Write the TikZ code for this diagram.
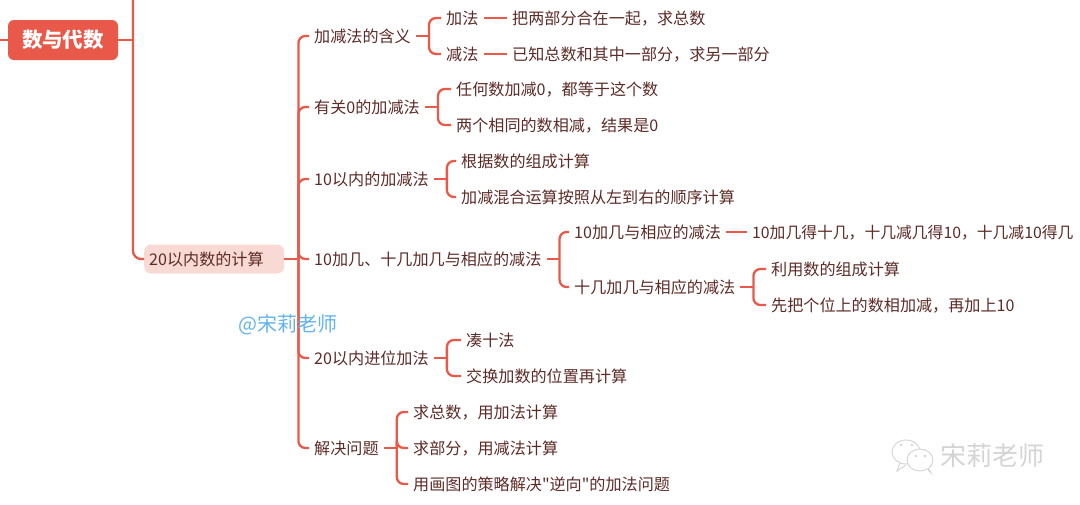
\documentclass[tikz,border=0pt]{standalone}
\usepackage{fontspec}
\newfontfamily\cjk{Noto Sans CJK SC}
\usepackage{xcolor}
\definecolor{coral}{HTML}{E8594A}
\definecolor{ink}{HTML}{5C2B27}
\definecolor{blush}{HTML}{F9D9D4}
\definecolor{sky}{HTML}{62B4EE}
\definecolor{stampgray}{HTML}{D4D4D4}
\tikzset{
  topic/.style={anchor=west,text=ink,inner xsep=5pt,inner ysep=0pt,text height=14.5pt,
                text depth=1pt,font=\cjk\fontsize{16.1}{18}\selectfont},
  rootbox/.style={fill=coral,text=white,rounded corners=6pt,minimum width=110pt,
                  minimum height=40pt,inner sep=0pt,
                  font=\cjk\fontsize{20.5}{24}\selectfont\bfseries},
  subbox/.style={topic,fill=blush,rounded corners=7pt,minimum height=29pt,minimum width=140pt,
                 text width=130pt},
  link/.style={draw=coral,line width=2.3pt},
  bubble/.style={draw=stampgray,fill=white,line width=0.9pt},
}
\newcommand{\branch}[3]{%
  \draw[link](#1.east)--++(#2,0)coordinate(j);
  \foreach \c in {#3}{\draw[link,rounded corners=7pt](j)|-(\c.west);}
}
\begin{document}
\begin{tikzpicture}[x=1pt,y=-1pt]
  \useasboundingbox(0,0)rectangle(1080,504);
  % root and first trunk
  \node[rootbox](root)at(63,40){数与代数};
  \coordinate(rootin)at(0,40);
  \coordinate(trunktop)at(133,0);
  \node[subbox](calc)at(144,259){20以内数的计算};
  \draw[link](rootin)--(root.west);
  \draw[link](root.east)--(root.east-|trunktop);
  \draw[link,rounded corners=8pt](trunktop)|-(calc.west);
  % second level
  \node[topic](mean)at(309,36){加减法的含义};
  \node[topic](zero)at(309,107){有关0的加减法};
  \node[topic](ten)at(309,179){10以内的加减法};
  \node[topic](teen)at(309,259){10加几、十几加几与相应的减法};
  \node[topic](carry)at(309,358){20以内进位加法};
  \node[topic](solve)at(309,448){解决问题};
  \branch{calc}{14}{mean,zero,ten,teen,carry,solve}
  % meaning
  \node[topic](add)at(441,18){加法};
  \node[topic](sub)at(441,54){减法};
  \node[topic](addtxt)at(507,18){把两部分合在一起，求总数};
  \node[topic](subtxt)at(507,54){已知总数和其中一部分，求另一部分};
  \branch{mean}{13}{add,sub}
  \draw[link](add)--(addtxt);
  \draw[link](sub)--(subtxt);
  % zero
  \node[topic](zeroa)at(451,89){任何数加减0，都等于这个数};
  \node[topic](zerob)at(451,125){两个相同的数相减，结果是0};
  \branch{zero}{13}{zeroa,zerob}
  % within ten
  \node[topic](tena)at(456,161){根据数的组成计算};
  \node[topic](tenb)at(456,197){加减混合运算按照从左到右的顺序计算};
  \branch{ten}{13}{tena,tenb}
  % ten plus
  \node[topic](teena)at(569,232){10加几与相应的减法};
  \node[topic](teenb)at(569,287){十几加几与相应的减法};
  \node[topic,font=\cjk\fontsize{15.8}{18}\selectfont](teenatxt)at(747,232){10加几得十几，十几减几得10，十几减10得几};
  \node[topic](teenba)at(766,269){利用数的组成计算};
  \node[topic](teenbb)at(766,305){先把个位上的数相加减，再加上10};
  \branch{teen}{13}{teena,teenb}
  \draw[link](teena)--(teenatxt);
  \branch{teenb}{13}{teenba,teenbb}
  % carry
  \node[topic](carrya)at(461,340){凑十法};
  \node[topic](carryb)at(461,376){交换加数的位置再计算};
  \branch{carry}{13}{carrya,carryb}
  % solving
  \node[topic](solvea)at(408,412){求总数，用加法计算};
  \node[topic](solveb)at(408,448){求部分，用减法计算};
  \node[topic](solvec)at(408,484){用画图的策略解决"逆向"的加法问题};
  \branch{solve}{13}{solvea,solveb,solvec}
  % watermarks
  \node[text=sky,font=\cjk\fontsize{20}{22}\selectfont,anchor=west,inner sep=0pt](wmark)at(238,325){@宋莉老师};
  \node[text=stampgray,font=\cjk\fontsize{26}{30}\selectfont,anchor=west,inner sep=0pt](logo)at(940,456){宋莉老师};
  \draw[bubble](900,463)--(897,471)--(906,465);
  \draw[bubble](906,452)ellipse(14 and 12);
  \draw[bubble](928,470)--(931,473)--(927,466);
  \draw[bubble](920,460)ellipse(13 and 11);
  \foreach \px/\py in {901/445,912/445,916/456,925/456}{
    \fill[stampgray](\px,\py)circle(1.3);
  }
\end{tikzpicture}
\end{document}
